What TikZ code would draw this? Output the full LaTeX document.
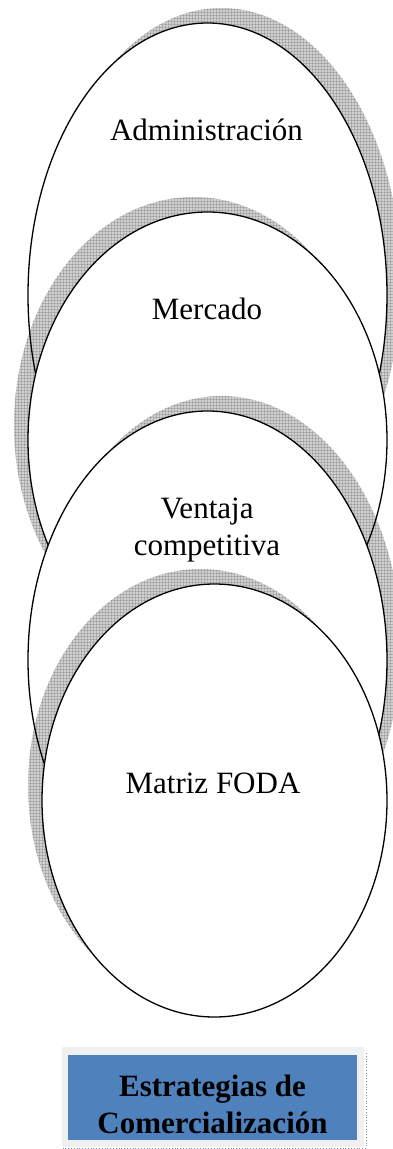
\documentclass[tikz,border=0pt]{standalone}
\usepackage{fontspec}
\setmainfont{Liberation Serif}
\usetikzlibrary{patterns, positioning}
\definecolor{cblue}{HTML}{4F81BD}
\definecolor{cframe}{HTML}{F0F0F0}
\definecolor{cdots}{HTML}{7F8FA6}
\definecolor{cshade}{HTML}{D0D0D0}
\definecolor{cgrid}{HTML}{DCDCDC}
\tikzset{
  every picture/.style={line width=1.3pt},
  oval/.style={draw=black, fill=white},
  drop/.style={fill=cshade, blend mode=multiply, postaction={pattern=grid, pattern color=cgrid}},
  word/.style={font=\fontsize{31}{37}\selectfont, align=center, inner sep=0pt},
  title/.style={font=\fontsize{31}{37}\selectfont\bfseries, align=center, inner sep=0pt},
}

\begin{document}
\begin{tikzpicture}[x=1pt, y=-1pt]
  \useasboundingbox (0,0) rectangle (393,1149);
  \clip (0,0) rectangle (393,1149);
  % administracion, shadow up and right
  \fill[drop] (221.5,280) ellipse (179.5 and 272);
  \draw[oval] (207.5,295) ellipse (179.5 and 272);
  \node[word] (adm) at (206.5,130) {Administración};
  % mercado, shadow up and left
  \fill[drop] (193.5,425) ellipse (179.5 and 228);
  \draw[oval] (207.5,440) ellipse (179.5 and 228);
  \node[word] (mer) at (207,309) {Mercado};
  % ventaja competitiva
  \fill[drop] (221.5,645) ellipse (179.5 and 249);
  \draw[oval] (207.5,660) ellipse (179.5 and 249);
  \node[word] (ven) at (207,530) {Ventaja\\competitiva};
  % matriz foda
  \fill[drop] (200.5,785.5) ellipse (172.5 and 216.5);
  \draw[oval] (214.5,800.5) ellipse (172.5 and 216.5);
  \node[word] (foda) at (213,783) {Matriz FODA};
  % title box
  \fill[cframe] (62,1047) rectangle (364,1147);
  \draw[cdots, dotted, line width=0.8pt] (366,1053) -- (366,1148) -- (63,1148);
  \fill[cblue] (68,1055) rectangle (357,1140);
  \node[title] (estr) at (212.5,1104) {Estrategias de\\Comercialización};
\end{tikzpicture}
\end{document}
